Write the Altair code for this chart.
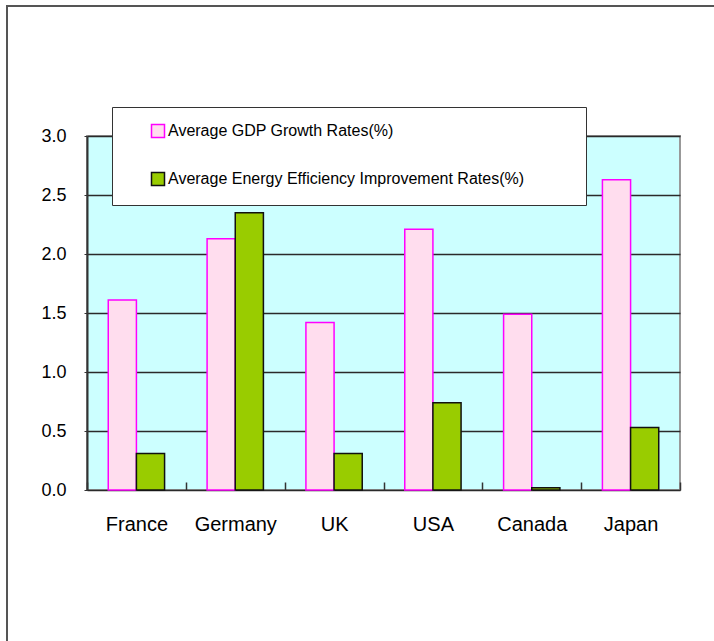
import altair as alt
import pandas as pd

countries = ["France", "Germany", "UK", "USA", "Canada", "Japan"]
series_names = ["Average GDP Growth Rates(%)", "Average Energy Efficiency Improvement Rates(%)"]
gdp = [1.61, 2.13, 1.42, 2.21, 1.49, 2.63]
eff = [0.31, 2.35, 0.31, 0.74, 0.02, 0.53]
y_ticks = [0.0, 0.5, 1.0, 1.5, 2.0, 2.5, 3.0]

rows = []
for c, g, e in zip(countries, gdp, eff):
    rows.append({"country": c, "series": series_names[0], "value": g})
    rows.append({"country": c, "series": series_names[1], "value": e})
df = pd.DataFrame(rows)

FONT = "Liberation Sans"
W, H = 593, 354

x = alt.X("country:N", sort=countries, title=None,
          scale=alt.Scale(paddingInner=0, paddingOuter=0),
          axis=alt.Axis(labelAngle=0, labelFont=FONT, labelFontSize=20, labelColor="#000",
                        domain=False, grid=False, tickBand="extent", tickSize=8,
                        tickColor="#333", tickWidth=1.5, offset=-8, labelPadding=24))

legend_opts = dict(title=" ", titleOrient="right", titlePadding=46, titleFontSize=4,
                   orient="none", legendX=25, legendY=-29,
                   fillColor="#FFFFFF", strokeColor="#333", padding=16,
                   symbolType="square", symbolSize=169, symbolStrokeWidth=1.5,
                   labelFont=FONT, labelFontSize=16, labelColor="#000",
                   labelLimit=600, rowPadding=28, labelOffset=2, symbolOffset=22)

bars = alt.Chart(df).mark_bar(strokeWidth=1.5).encode(
    x=x,
    xOffset=alt.XOffset("series:N", sort=series_names,
                        scale=alt.Scale(paddingInner=0, paddingOuter=0.755)),
    y=alt.Y("value:Q", title=None,
            scale=alt.Scale(domain=[0, 3], nice=False),
            axis=alt.Axis(values=y_ticks, format=".1f", labelFont=FONT, labelFontSize=18,
                          labelColor="#000", domainColor="#333", domainWidth=2,
                          tickColor="#333", tickSize=3, labelPadding=18,
                          gridColor="#2a2a2a", gridWidth=1.3, grid=True)),
    fill=alt.Fill("series:N", sort=series_names,
                  scale=alt.Scale(domain=series_names, range=["#FFDDEE", "#99CC00"]),
                  legend=alt.Legend(**legend_opts)),
    stroke=alt.Stroke("series:N", sort=series_names,
                      scale=alt.Scale(domain=series_names, range=["#FF00FF", "#111111"]),
                      legend=alt.Legend(**legend_opts)),
)

frame_src = pd.DataFrame({"a": [0]})
frame_top = alt.Chart(frame_src).mark_rule(stroke="#555", strokeWidth=2).encode(
    x=alt.value(-80), x2=alt.value(627), y=alt.value(-130))
frame_left = alt.Chart(frame_src).mark_rule(stroke="#555", strokeWidth=2).encode(
    x=alt.value(-80), y=alt.value(-131), y2=alt.value(505))

chart = alt.layer(frame_top, frame_left, bars).properties(
    width=W, height=H,
    autosize=alt.AutoSizeParams(type="none"),
    padding={"left": 87, "top": 136, "right": 34, "bottom": 151},
    background="#FFFFFF",
).configure_view(fill="#CCFFFF", stroke="#999999", strokeWidth=2)

chart.save("out.html", embed_options={"renderer": "svg", "actions": False})
